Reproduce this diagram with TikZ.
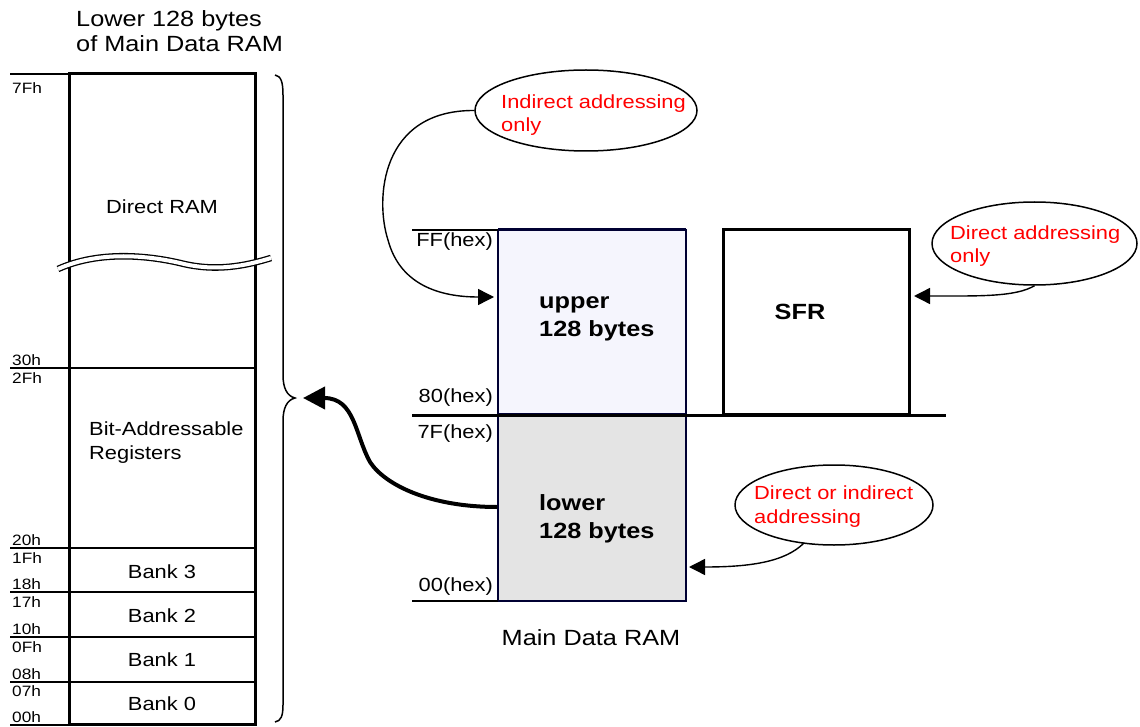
\documentclass[tikz,border=0pt]{standalone}
\usepackage{fontspec}
\setmainfont[FakeStretch=1.15]{Liberation Sans}
\usetikzlibrary{arrows.meta,shapes.geometric}
\definecolor{navy}{HTML}{000033}
\definecolor{upfill}{HTML}{F5F5FD}
\definecolor{lowfill}{HTML}{E4E4E4}
\definecolor{redtext}{HTML}{FF0000}
\begin{document}
\begin{tikzpicture}[x=1pt,y=-1pt,
  body/.style={font=\fontsize{19}{23.5}\selectfont, inner sep=0pt, align=left},
  title/.style={font=\fontsize{22}{25}\selectfont, inner sep=0pt, align=left},
  addr/.style={font=\fontsize{15}{18}\selectfont, inner sep=0pt},
  hexlab/.style={font=\fontsize{19}{22}\selectfont, inner sep=0pt},
  boldtxt/.style={font=\fontsize{22}{28}\selectfont\bfseries, inner sep=0pt, align=left},
  redtxt/.style={body, text=redtext},
  bubble/.style={draw, ellipse, line width=1.5pt, inner sep=0pt},
  thin/.style={line width=1.2pt},
  conn/.style={line width=1.4pt, -{Triangle[length=16pt,width=16pt]}},
]
\useasboundingbox (0,0) rectangle (1140,727);

% ---------- left column ----------
\node[title, anchor=base west] (ttl) at (76,52) {Lower 128 bytes\\of Main Data RAM};

% section dividers and ticks
\draw[thin] (10,74) -- (69,74);
\draw[thin] (10,368) -- (255,368);
\draw[thin] (10,548) -- (255,548);
\draw[thin] (10,592) -- (255,592);
\draw[thin] (10,637) -- (255,637);
\draw[thin] (10,682) -- (255,682);
\draw[thin] (10,725) -- (69,725);

\node[draw, line width=3pt, inner sep=0pt, minimum width=186pt, minimum height=650pt] (ram) at (162,399) {};

% wavy break
\draw[line width=1.3pt, double=white, double distance=4pt]
  (58,269) .. controls (100,250) and (150,256) .. (180,263)
           .. controls (215,272) and (245,266) .. (271,258);

\node[body, anchor=base west] (dram) at (106,214) {Direct RAM};
\node[body, anchor=base west] (bitreg) at (89,459) {Bit-Addressable\\Registers};
\node[body, anchor=base] (b3) at (162,578) {Bank 3};
\node[body, anchor=base] (b2) at (162,622) {Bank 2};
\node[body, anchor=base] (b1) at (162,666) {Bank 1};
\node[body, anchor=base] (b0) at (162,710) {Bank 0};

\node[addr, anchor=base west] (l7f) at (12,94) {7Fh};
\node[addr, anchor=base west] (l30) at (12,365) {30h};
\node[addr, anchor=base west] (l2f) at (12,383) {2Fh};
\node[addr, anchor=base west] (l20) at (12,545) {20h};
\node[addr, anchor=base west] (l1f) at (12,563) {1Fh};
\node[addr, anchor=base west] (l18) at (12,589) {18h};
\node[addr, anchor=base west] (l17) at (12,607) {17h};
\node[addr, anchor=base west] (l10) at (12,634) {10h};
\node[addr, anchor=base west] (l0f) at (12,652) {0Fh};
\node[addr, anchor=base west] (l08) at (12,679) {08h};
\node[addr, anchor=base west] (l07) at (12,696) {07h};
\node[addr, anchor=base west] (l00) at (12,722) {00h};

% brace
\draw[line width=1.5pt] (275,75) .. controls (281,76) and (283,82) .. (283,95)
  -- (283,375) .. controls (283,388) and (287,396) .. (295,398)
  .. controls (287,400) and (283,408) .. (283,421)
  -- (283,705) .. controls (283,716) and (281,721) .. (275,722);
\coordinate (bt) at (303,398);

% ---------- right part ----------
\node[draw=navy, fill=upfill, line width=2pt, inner sep=0pt, minimum width=188pt, minimum height=184pt] (up) at (592,322) {};
\node[draw=navy, fill=lowfill, line width=1.5pt, inner sep=0pt, minimum width=188pt, minimum height=187pt] (low) at (592,507.5) {};
\draw[navy, line width=3pt] (498,230) -- (686,230);
\draw[navy, line width=2.5pt] (498,601) -- (686,601);
\node[draw, line width=3pt, inner sep=0pt, minimum width=186pt, minimum height=184pt] (sfr) at (816,322) {};

\draw[line width=3pt] (412,415) -- (946,415);
\draw[thin] (412,230) -- (498,230);
\draw[thin] (412,601) -- (498,601);

\node[hexlab, anchor=base east] (hff) at (493,247) {FF(hex)};
\node[hexlab, anchor=base east] (h80) at (493,402) {80(hex)};
\node[hexlab, anchor=base east] (h7f) at (493,438) {7F(hex)};
\node[hexlab, anchor=base east] (h00) at (493,591) {00(hex)};

\node[boldtxt, anchor=base west] (upt) at (539,336) {upper\\128 bytes};
\node[boldtxt, anchor=base west] (lowt) at (539,538) {lower\\128 bytes};
\node[boldtxt, anchor=base] (sfrt) at (800,319) {SFR};
\node[title, anchor=base] (mdr) at (591,645) {Main Data RAM};

% bubbles
\node[bubble, minimum width=222pt, minimum height=81pt] (e1) at (586,110.5) {};
\node[redtxt, anchor=base west] (t1) at (501,132) {Indirect addressing\\only};
\node[bubble, minimum width=205pt, minimum height=83pt] (e2) at (1034.5,243.5) {};
\node[redtxt, anchor=base west] (t2) at (950,263) {Direct addressing\\only};
\node[bubble, minimum width=198pt, minimum height=80pt] (e3) at (834,505) {};
\node[redtxt, anchor=base west] (t3) at (754,523) {Direct or indirect\\addressing};

% connectors
\coordinate (a1) at (494,297);
\coordinate (a2) at (914,296);
\coordinate (a3) at (689,567);
\draw[conn] (e1.west) .. controls (380,110) and (375,200) .. (388,240)
  .. controls (400,285) and (440,297) .. (a1);
\draw[conn] (e2.south) .. controls (1015,297) and (980,296) .. (a2);
\draw[conn] (804,543) .. controls (785,562) and (750,567) .. (a3);
\draw[line width=4pt, -{Triangle[length=22pt,width=22pt]}] (low.west |- 0,507)
  .. controls (430,507) and (385,485) .. (370,462)
  .. controls (355,435) and (355,398) .. (bt);
\end{tikzpicture}
\end{document}
